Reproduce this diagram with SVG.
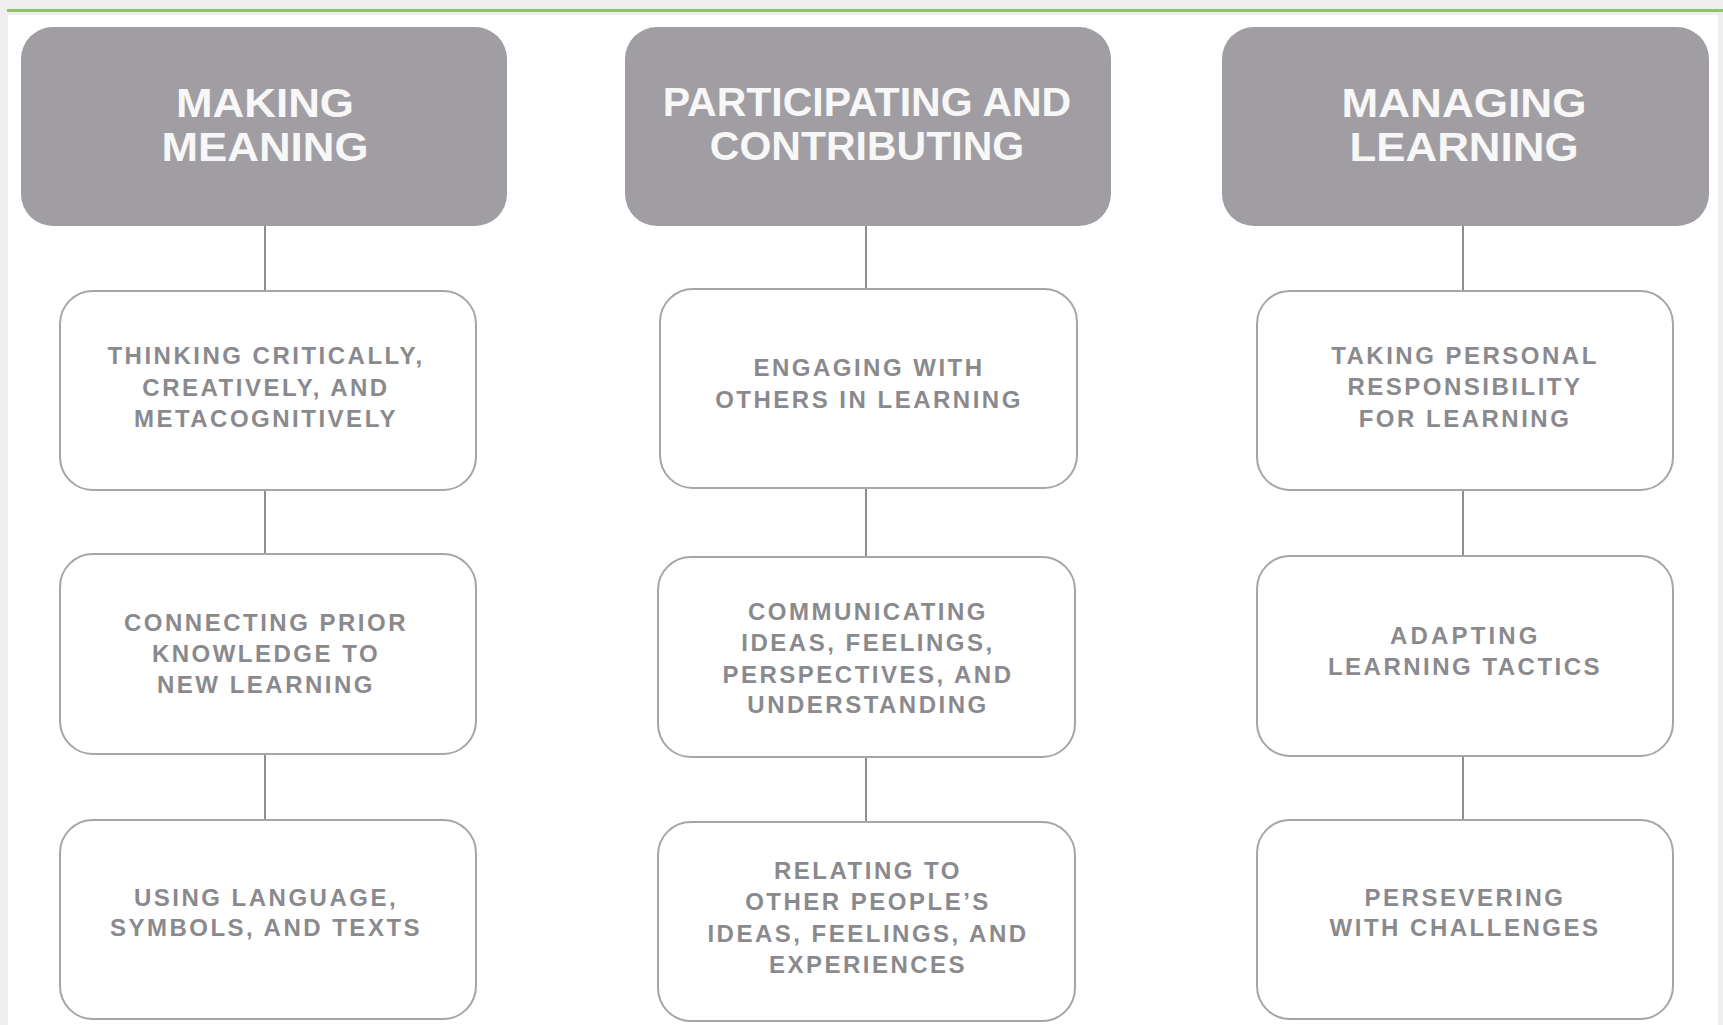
<svg xmlns="http://www.w3.org/2000/svg" width="1723" height="1025" viewBox="0 0 1723 1025">
  <style>
    .head rect { fill: #a09ea2; }
    .head text { fill: #f7f7f7; font-family: "Liberation Sans", Arial, sans-serif; font-weight: bold; font-size: 41px; text-anchor: middle; dominant-baseline: central; }
    .item rect { fill: #ffffff; stroke: #a6a6a6; stroke-width: 2; }
    .item text { fill: #8a8a8e; font-family: "Liberation Sans", Arial, sans-serif; font-weight: bold; font-size: 24px; letter-spacing: 2.5px; text-anchor: middle; dominant-baseline: central; }
    .links line { stroke: #8e8e8e; stroke-width: 2; }
  </style>

  <!-- page background, green rule and white panel -->
  <rect x="0" y="0" width="1723" height="1025" fill="#eeeeee"/>
  <rect x="7" y="9" width="1716" height="3" fill="#8cc665"/>
  <rect x="8" y="15" width="1710" height="1010" fill="#ffffff"/>

  <!-- connectors -->
  <g id="connectors" class="links">
    <line x1="265" y1="225" x2="265" y2="291"/>
    <line x1="265" y1="490" x2="265" y2="554"/>
    <line x1="265" y1="754" x2="265" y2="820"/>
    <line x1="866" y1="225" x2="866" y2="289"/>
    <line x1="866" y1="488" x2="866" y2="557"/>
    <line x1="866" y1="757" x2="866" y2="822"/>
    <line x1="1463" y1="225" x2="1463" y2="291"/>
    <line x1="1463" y1="490" x2="1463" y2="556"/>
    <line x1="1463" y1="756" x2="1463" y2="820"/>
  </g>

  <!-- column headers -->
  <g id="making-meaning" class="head">
    <rect x="21" y="27" width="486" height="199" rx="32"/>
    <text x="265" y="103" textLength="178" lengthAdjust="spacingAndGlyphs">MAKING</text>
    <text x="265" y="147" textLength="207" lengthAdjust="spacingAndGlyphs">MEANING</text>
  </g>
  <g id="participating-contributing" class="head">
    <rect x="625" y="27" width="486" height="199" rx="32"/>
    <text x="867" y="102">PARTICIPATING AND</text>
    <text x="867" y="146">CONTRIBUTING</text>
  </g>
  <g id="managing-learning" class="head">
    <rect x="1222" y="27" width="487" height="199" rx="32"/>
    <text x="1464" y="103" textLength="245" lengthAdjust="spacingAndGlyphs">MANAGING</text>
    <text x="1464" y="147" textLength="229" lengthAdjust="spacingAndGlyphs">LEARNING</text>
  </g>

  <!-- Making meaning column -->
  <g id="thinking-critically" class="item">
    <rect x="60" y="291" width="416" height="199" rx="33"/>
    <text x="266" y="355">THINKING CRITICALLY,</text>
    <text x="266" y="387">CREATIVELY, AND</text>
    <text x="266" y="418">METACOGNITIVELY</text>
  </g>
  <g id="connecting-prior-knowledge" class="item">
    <rect x="60" y="554" width="416" height="200" rx="33"/>
    <text x="266" y="622">CONNECTING PRIOR</text>
    <text x="266" y="653">KNOWLEDGE TO</text>
    <text x="266" y="684">NEW LEARNING</text>
  </g>
  <g id="using-language" class="item">
    <rect x="60" y="820" width="416" height="199" rx="33"/>
    <text x="266" y="897">USING LANGUAGE,</text>
    <text x="266" y="927">SYMBOLS, AND TEXTS</text>
  </g>

  <!-- Participating and contributing column -->
  <g id="engaging-with-others" class="item">
    <rect x="660" y="289" width="417" height="199" rx="33"/>
    <text x="869" y="367">ENGAGING WITH</text>
    <text x="869" y="399">OTHERS IN LEARNING</text>
  </g>
  <g id="communicating-ideas" class="item">
    <rect x="658" y="557" width="417" height="200" rx="33"/>
    <text x="868" y="611">COMMUNICATING</text>
    <text x="868" y="642">IDEAS, FEELINGS,</text>
    <text x="868" y="674">PERSPECTIVES, AND</text>
    <text x="868" y="704">UNDERSTANDING</text>
  </g>
  <g id="relating-to-others" class="item">
    <rect x="658" y="822" width="417" height="199" rx="33"/>
    <text x="868" y="870">RELATING TO</text>
    <text x="868" y="901">OTHER PEOPLE’S</text>
    <text x="868" y="933">IDEAS, FEELINGS, AND</text>
    <text x="868" y="964">EXPERIENCES</text>
  </g>

  <!-- Managing learning column -->
  <g id="taking-responsibility" class="item">
    <rect x="1257" y="291" width="416" height="199" rx="33"/>
    <text x="1465" y="355">TAKING PERSONAL</text>
    <text x="1465" y="386">RESPONSIBILITY</text>
    <text x="1465" y="418">FOR LEARNING</text>
  </g>
  <g id="adapting-tactics" class="item">
    <rect x="1257" y="556" width="416" height="200" rx="33"/>
    <text x="1465" y="635" textLength="150">ADAPTING</text>
    <text x="1465" y="666">LEARNING TACTICS</text>
  </g>
  <g id="persevering" class="item">
    <rect x="1257" y="820" width="416" height="199" rx="33"/>
    <text x="1465" y="897">PERSEVERING</text>
    <text x="1465" y="927">WITH CHALLENGES</text>
  </g>
</svg>
